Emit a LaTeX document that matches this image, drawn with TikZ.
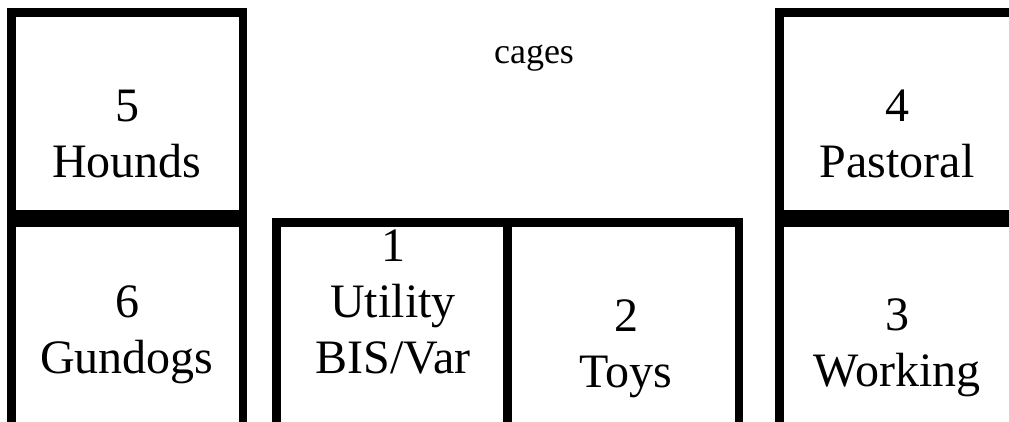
\documentclass[tikz,border=0pt]{standalone}
\usepackage{fontspec}
\setmainfont{Liberation Serif}
\begin{document}
\begin{tikzpicture}[x=1pt,y=-1pt,
  cell/.style={draw=black, line width=8.5pt, rectangle, inner sep=0pt,
    minimum width=231.5pt, minimum height=201.5pt},
  lowcell/.style={cell, minimum height=203.5pt},
  lbl/.style={font=\fontsize{48}{56}\selectfont, align=center, anchor=base, inner sep=0pt},
  note/.style={font=\fontsize{36}{40}\selectfont, anchor=base, inner sep=0pt}]
\useasboundingbox (0,0) rectangle (1009,421);
\clip (0,0) rectangle (1009,421);
% boxes
\node[cell] (hounds) at (127,113) {};
\node[lowcell] (gundogs) at (127,324) {};
\node[lowcell] (utility) at (392,324) {};
\node[lowcell] (toys) at (623,324) {};
\node[cell, minimum width=235pt] (pastoral) at (896.75,113) {};
\node[lowcell, minimum width=235pt] (working) at (896.75,324) {};
% labels (anchor = baseline of last line)
\node[lbl] (t5) at (127,177) {5\\Hounds};
\node[lbl] (t6) at (127,373) {6\\Gundogs};
\node[lbl] (t1) at (393,373) {1\\Utility\\BIS/Var};
\node[lbl] (t2) at (626,387) {2\\Toys};
\node[lbl] (t4) at (897,177) {4\\Pastoral};
\node[lbl] (t3) at (897,386) {3\\Working};
\node[note] (cages) at (534,63) {cages};
\end{tikzpicture}
\end{document}
